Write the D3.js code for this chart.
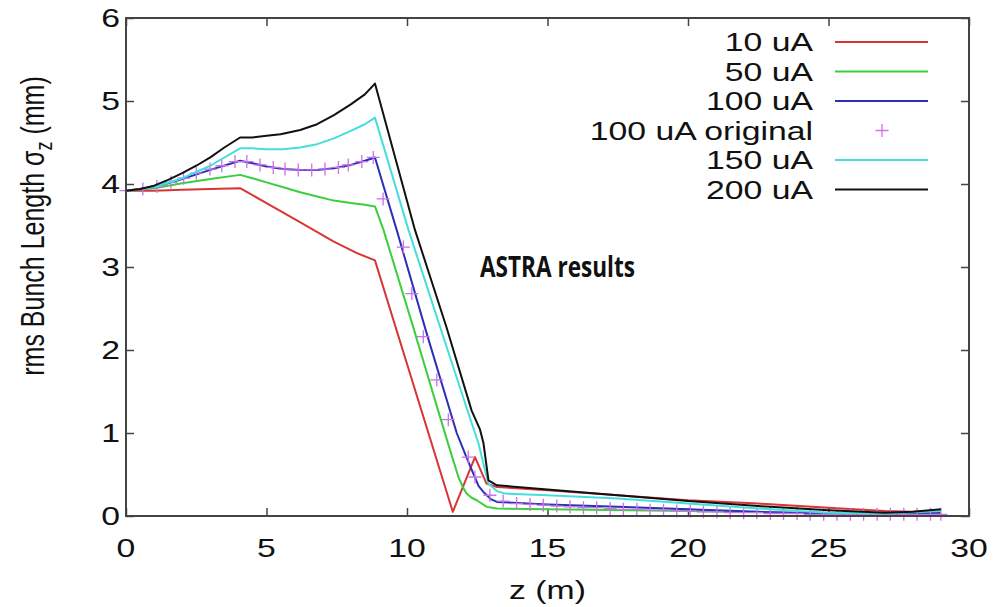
<!DOCTYPE html>
<html>
<head>
<meta charset="utf-8">
<script src="https://d3js.org/d3.v7.min.js"></script>
<style>
  html, body { margin: 0; padding: 0; background: #fff; }
  svg { display: block; }
</style>
</head>
<body>
<svg id="chart" width="994" height="607"></svg>
<script>
// ---- data ----
const xTicks = [0, 5, 10, 15, 20, 25, 30];
const yTicks = [0, 1, 2, 3, 4, 5, 6];

const legendLabels = ["10 uA", "50 uA", "100 uA", "100 uA original", "150 uA", "200 uA"];

const z10 = [0, 1, 2, 3, 4.06, 5, 6.19, 7.38, 8.2, 8.86, 11.63, 12.42, 12.83, 13.2, 15, 17.5, 20, 22.5, 25, 27, 28, 29];
const s10 = [3.92, 3.92, 3.93, 3.94, 3.95, 3.77, 3.54, 3.31, 3.17, 3.08, 0.05, 0.71, 0.39, 0.35, 0.31, 0.25, 0.19, 0.15, 0.10, 0.06, 0.05, 0.06];

const z50 = [0, 1, 2, 3, 4.06, 4.5, 5, 5.6, 6.2, 6.8, 7.4, 8, 8.5, 8.86, 9.16, 10.2, 11.17, 11.5, 11.83, 12.0, 12.12, 12.3, 12.48, 12.84, 13.2, 15, 20, 25, 29];
const s50 = [3.92, 3.95, 4.01, 4.06, 4.11, 4.07, 4.02, 3.96, 3.90, 3.85, 3.80, 3.77, 3.75, 3.73, 3.45, 2.30, 1.20, 0.83, 0.47, 0.34, 0.27, 0.22, 0.19, 0.11, 0.09, 0.08, 0.06, 0.03, 0.03];

const z100 = [0, 1, 2, 3, 4.06, 4.5, 5, 5.6, 6.2, 6.8, 7.4, 8, 8.5, 8.86, 9.63, 10.7, 11.77, 12.1, 12.36, 12.55, 12.72, 13.0, 13.2, 15, 17.5, 20, 22.5, 25, 27, 29];
const s100 = [3.92, 3.96, 4.06, 4.17, 4.28, 4.25, 4.21, 4.18, 4.17, 4.17, 4.19, 4.23, 4.28, 4.32, 3.45, 2.20, 1.00, 0.72, 0.51, 0.36, 0.29, 0.20, 0.17, 0.14, 0.11, 0.08, 0.05, 0.03, 0.02, 0.04];

const zOrig = [0, 0.6, 1.1, 1.6, 2.05, 2.5, 2.99, 3.41, 3.88, 4.30, 4.77, 5.24, 5.66, 6.13, 6.61, 7.08, 7.56, 7.91, 8.39, 8.80,
               9.15, 9.87, 10.17, 10.58, 11.06, 11.47, 12.18, 12.42, 12.95, 13.42, 13.9, 14.38, 14.85, 15.33, 15.8, 16.28,
               16.75, 17.23, 17.7, 18.18, 18.65, 19.13, 19.6, 20.08, 20.55, 21.03, 21.5, 21.98, 22.45, 22.93, 23.4, 23.88,
               24.35, 24.83, 25.3, 25.78, 26.25, 26.73, 27.2, 27.68, 28.15, 28.63, 29.0];
const sOrig = [3.92, 3.94, 3.97, 4.02, 4.07, 4.13, 4.18, 4.22, 4.27, 4.27, 4.23, 4.20, 4.18, 4.17, 4.17, 4.18, 4.20, 4.23, 4.27, 4.32,
               3.82, 3.24, 2.68, 2.16, 1.64, 1.16, 0.71, 0.47, 0.25, 0.18, 0.15, 0.14, 0.13, 0.12, 0.11, 0.10,
               0.10, 0.09, 0.08, 0.08, 0.07, 0.07, 0.06, 0.06, 0.05, 0.05, 0.04, 0.04, 0.04, 0.03, 0.03, 0.03,
               0.02, 0.02, 0.02, 0.02, 0.02, 0.02, 0.02, 0.02, 0.02, 0.02, 0.02];

const z150 = [0, 1, 2, 3, 4.06, 4.5, 5, 5.6, 6.2, 6.8, 7.4, 8, 8.5, 8.86, 10.05, 11.3, 12.3, 12.54, 12.72, 12.9, 13.2, 13.5, 15, 17.5, 20, 22.5, 25, 27, 29];
const s150 = [3.92, 3.96, 4.07, 4.22, 4.43, 4.43, 4.42, 4.42, 4.44, 4.48, 4.55, 4.64, 4.72, 4.80, 3.45, 2.15, 1.12, 0.88, 0.63, 0.39, 0.30, 0.27, 0.25, 0.21, 0.15, 0.09, 0.04, 0.03, 0.06];

const z200 = [0, 0.5, 1, 1.5, 2, 2.5, 3, 3.5, 4.06, 4.5, 5, 5.5, 6.2, 6.8, 7.4, 8, 8.5, 8.86, 10.28, 11.4, 12.3, 12.6, 12.72, 12.9, 13.2, 15, 17.5, 20, 22.5, 25, 27, 28, 29];
const s200 = [3.92, 3.94, 3.98, 4.05, 4.13, 4.22, 4.32, 4.44, 4.56, 4.56, 4.58, 4.60, 4.65, 4.72, 4.83, 4.96, 5.08, 5.21, 3.45, 2.28, 1.27, 1.04, 0.88, 0.43, 0.37, 0.32, 0.25, 0.18, 0.12, 0.07, 0.04, 0.05, 0.08];

const colors = { r: "#d93535", g: "#3ccf3c", b: "#2e2eb8", o: "#c873e6", c: "#45dede", k: "#111111" };

// ---- layout ----
const svg = d3.select("#chart");
const L = 126, R = 969, T = 18, B = 516;
const x = d3.scaleLinear().domain([0, 30]).range([L, R]);
const y = d3.scaleLinear().domain([0, 6]).range([B, T]);
const font = "'Liberation Sans', Arial, Helvetica, sans-serif";
const FS = 25, SX = 1.35; // font size and horizontal stretch of the original picture

const zip = (zs, ss) => zs.map((z, i) => [z, ss[i]]);
const line = d3.line().x(d => x(d[0])).y(d => y(d[1]));

function label(px, py, txt, anchor) {
  return svg.append("text").attr("transform", `translate(${px},${py}) scale(${SX},1)`)
    .attr("text-anchor", anchor).attr("font-family", font).attr("font-size", FS)
    .attr("fill", "#111").text(txt);
}

// axes with inward ticks (tick labels drawn separately)
const tickLen = 8;
const axB = svg.append("g").attr("transform", `translate(0,${B})`)
  .call(d3.axisBottom(x).tickValues(xTicks).tickSize(-tickLen).tickFormat(""));
const axT = svg.append("g").attr("transform", `translate(0,${T})`)
  .call(d3.axisTop(x).tickValues(xTicks).tickSize(-tickLen).tickFormat(""));
const axL = svg.append("g").attr("transform", `translate(${L},0)`)
  .call(d3.axisLeft(y).tickValues(yTicks).tickSize(-tickLen).tickFormat(""));
const axR = svg.append("g").attr("transform", `translate(${R},0)`)
  .call(d3.axisRight(y).tickValues(yTicks).tickSize(-tickLen).tickFormat(""));
[axB, axT, axL, axR].forEach(a => {
  a.select(".domain").remove();
  a.selectAll(".tick line").attr("stroke", "#444").attr("stroke-width", 1.5);
  a.selectAll(".tick text").remove();
});
xTicks.forEach(t => label(x(t), 557, d3.format("d")(t), "middle"));
yTicks.forEach(t => label(L - 6, y(t) + 9, d3.format("d")(t), "end"));

// curves
const series = [
  { d: zip(z10, s10), c: colors.r },
  { d: zip(z50, s50), c: colors.g },
  { d: zip(z100, s100), c: colors.b },
];
series.forEach(s => {
  svg.append("path").datum(s.d).attr("d", line).attr("fill", "none")
    .attr("stroke", s.c).attr("stroke-width", 2).attr("stroke-linejoin", "round");
});

// markers
const plusSize = 6.5;
const plus = (cx, cy) => `M${cx - plusSize},${cy}H${cx + plusSize}M${cx},${cy - plusSize}V${cy + plusSize}`;
svg.append("g").selectAll("path").data(zip(zOrig, sOrig)).join("path")
  .attr("d", d => plus(x(d[0]), y(d[1])))
  .attr("stroke", colors.o).attr("stroke-width", 1.3).attr("fill", "none");

[{ d: zip(z150, s150), c: colors.c }, { d: zip(z200, s200), c: colors.k }].forEach(s => {
  svg.append("path").datum(s.d).attr("d", line).attr("fill", "none")
    .attr("stroke", s.c).attr("stroke-width", 2).attr("stroke-linejoin", "round");
});

// frame
svg.append("rect").attr("x", L).attr("y", T).attr("width", R - L).attr("height", B - T)
  .attr("fill", "none").attr("stroke", "#444").attr("stroke-width", 2);

// legend
const legColors = [colors.r, colors.g, colors.b, colors.o, colors.c, colors.k];
const legY = d3.scalePoint().domain(legendLabels).range([42, 189.5]);
legendLabels.forEach((lab, i) => {
  const cy = legY(lab);
  label(813, cy + 9, lab, "end");
  if (i === 3) {
    svg.append("path").attr("d", plus(882, cy)).attr("stroke", legColors[i]).attr("stroke-width", 1.3);
  } else {
    svg.append("line").attr("x1", 835).attr("x2", 928).attr("y1", cy).attr("y2", cy)
      .attr("stroke", legColors[i]).attr("stroke-width", 2);
  }
});

// annotation
svg.append("text").attr("x", 480).attr("y", 277)
  .attr("font-family", "'Liberation Sans Narrow', 'Open Sans', sans-serif").attr("font-weight", "bold")
  .attr("font-size", 28).attr("textLength", 155).attr("lengthAdjust", "spacingAndGlyphs")
  .attr("fill", "#111").text("ASTRA results");

// axis titles
label((L + R) / 2, 599, "z (m)", "middle");

const yt = svg.append("text").attr("transform", `translate(44,226) scale(${SX},1) rotate(-90)`)
  .attr("text-anchor", "middle").attr("font-family", font).attr("font-size", FS).attr("fill", "#111");
yt.append("tspan").text("rms Bunch Length σ");
yt.append("tspan").attr("font-size", 18).attr("dy", 6).text("z");
yt.append("tspan").attr("dy", -6).text(" (mm)");
</script>
</body>
</html>
